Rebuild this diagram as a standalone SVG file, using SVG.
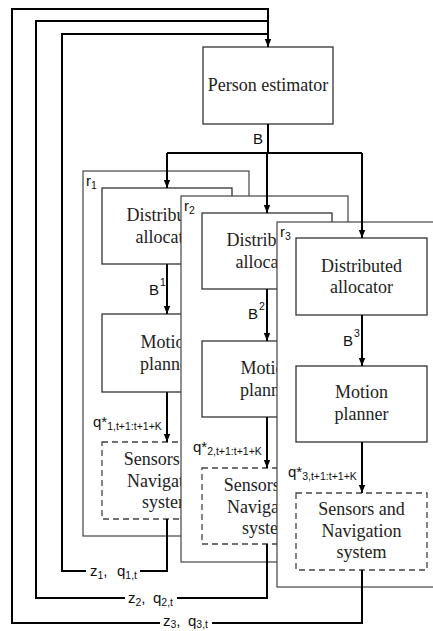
<svg xmlns="http://www.w3.org/2000/svg" width="433" height="631" viewBox="0 0 433 631">
<defs>
<marker id="arr" markerUnits="userSpaceOnUse" markerWidth="8" markerHeight="8" viewBox="0 0 10 10" refX="10" refY="5" orient="auto"><path d="M0,1 L10,5 L0,9 z" fill="#000"/></marker>
<style>
.frame{fill:#fff;stroke:#444;stroke-width:1.2}
.box{fill:#fff;stroke:#333;stroke-width:1.3}
.dash{fill:#fff;stroke:#444;stroke-width:1.3;stroke-dasharray:6,4}
.t{font-family:"Liberation Serif","Times New Roman",serif;font-size:18px;fill:#222;text-anchor:middle}
.l{font-family:"Liberation Sans",Arial,sans-serif;font-size:15px;fill:#111}
.s{font-size:10.5px}
.c{fill:none;stroke:#000;stroke-width:2}
.a{fill:none;stroke:#000;stroke-width:2;marker-end:url(#arr)}
.bg{fill:#fff}
</style>
</defs>
<rect width="433" height="631" fill="#fff"/>

<g id="person-estimator">
<rect class="box" x="203" y="47" width="130" height="77"/>
<text class="t" x="268" y="91">Person estimator</text>
</g>

<g id="robot1">
<rect class="frame" x="83" y="171" width="166" height="365"/>
<text class="l" x="86" y="186" font-size="16">r<tspan class="s" dy="3">1</tspan></text>
<g id="alloc1"><rect class="box" x="102" y="188" width="130" height="76"/>
<text class="t" x="167" y="221">Distributed</text><text class="t" x="167" y="243">allocator</text></g>
<g id="planner1"><rect class="box" x="102" y="314" width="130" height="78"/>
<text class="t" x="167" y="348">Motion</text><text class="t" x="167" y="370">planner</text></g>
<g id="sensors1"><rect class="dash" x="102" y="442" width="130" height="77"/>
<text class="t" x="167" y="465">Sensors and</text><text class="t" x="167" y="487">Navigation</text><text class="t" x="167" y="508">system</text></g>
</g>

<g id="robot2">
<rect class="frame" x="181" y="196" width="167" height="366"/>
<text class="l" x="184" y="211" font-size="16">r<tspan class="s" dy="3">2</tspan></text>
<g id="alloc2"><rect class="box" x="202" y="213" width="130" height="76"/>
<text class="t" x="267" y="246">Distributed</text><text class="t" x="267" y="268">allocator</text></g>
<g id="planner2"><rect class="box" x="202" y="341" width="130" height="76"/>
<text class="t" x="267" y="374">Motion</text><text class="t" x="267" y="396">planner</text></g>
<g id="sensors2"><rect class="dash" x="202" y="468" width="130" height="76"/>
<text class="t" x="267" y="491">Sensors and</text><text class="t" x="267" y="513">Navigation</text><text class="t" x="267" y="534">system</text></g>
</g>

<g id="robot3">
<rect class="frame" x="277" y="222" width="170" height="365"/>
<text class="l" x="280" y="237" font-size="16">r<tspan class="s" dy="3">3</tspan></text>
<g id="alloc3"><rect class="box" x="296" y="238" width="131" height="77"/>
<text class="t" x="361.5" y="272">Distributed</text><text class="t" x="361.5" y="293">allocator</text></g>
<g id="planner3"><rect class="box" x="296" y="366" width="131" height="76"/>
<text class="t" x="361.5" y="398">Motion</text><text class="t" x="361.5" y="420">planner</text></g>
<g id="sensors3"><rect class="dash" x="296" y="493" width="131" height="77"/>
<text class="t" x="361.5" y="515">Sensors and</text><text class="t" x="361.5" y="537">Navigation</text><text class="t" x="361.5" y="558">system</text></g>
</g>

<g id="connectors">
<path class="c" d="M268,124 V153 M167,153 H362"/>
<path class="a" d="M167,153 V188"/>
<path class="a" d="M267,153 V213"/>
<path class="a" d="M362,153 V238"/>
<path class="a" d="M167,264 V314"/>
<path class="a" d="M167,392 V442"/>
<path class="a" d="M267,289 V341"/>
<path class="a" d="M267,417 V468"/>
<path class="a" d="M362,315 V366"/>
<path class="a" d="M362,442 V493"/>
<path class="c" d="M167,519 V571 H62 V34 H268"/>
<path class="c" d="M267,544 V598 H36 V21 H268"/>
<path class="c" d="M362,570 V623 H12 V9 H268"/>
<path class="a" d="M268,8 V47"/>

<text class="l" x="253" y="144">B</text>
<text class="l" x="149" y="295">B<tspan class="s" dx="1" dy="-9">1</tspan></text>
<text class="l" x="248" y="319">B<tspan class="s" dx="1" dy="-9">2</tspan></text>
<text class="l" x="343" y="346">B<tspan class="s" dx="1" dy="-9">3</tspan></text>

<text class="l" x="93" y="427" font-size="16">q*<tspan class="s" font-size="11" dy="3">1,t+1:t+1+K</tspan></text>
<text class="l" x="193" y="452" font-size="16">q*<tspan class="s" font-size="11" dy="3">2,t+1:t+1+K</tspan></text>
<text class="l" x="288" y="477" font-size="16">q*<tspan class="s" font-size="11" dy="3">3,t+1:t+1+K</tspan></text>

<rect class="bg" x="86" y="563" width="54" height="17"/>
<text class="l" x="90" y="576" font-size="16">z<tspan class="s" dy="3">1</tspan><tspan dy="-3">,</tspan><tspan x="117">q</tspan><tspan class="s" dy="3">1,t</tspan></text>
<rect class="bg" x="125" y="590" width="52" height="17"/>
<text class="l" x="128" y="603" font-size="16">z<tspan class="s" dy="3">2</tspan><tspan dy="-3">,</tspan><tspan x="153">q</tspan><tspan class="s" dy="3">2,t</tspan></text>
<rect class="bg" x="160" y="615" width="52" height="16"/>
<text class="l" x="163" y="626" font-size="16">z<tspan class="s" dy="2">3</tspan><tspan dy="-2">,</tspan><tspan x="188">q</tspan><tspan class="s" dy="2">3,t</tspan></text>
</g>
</svg>
